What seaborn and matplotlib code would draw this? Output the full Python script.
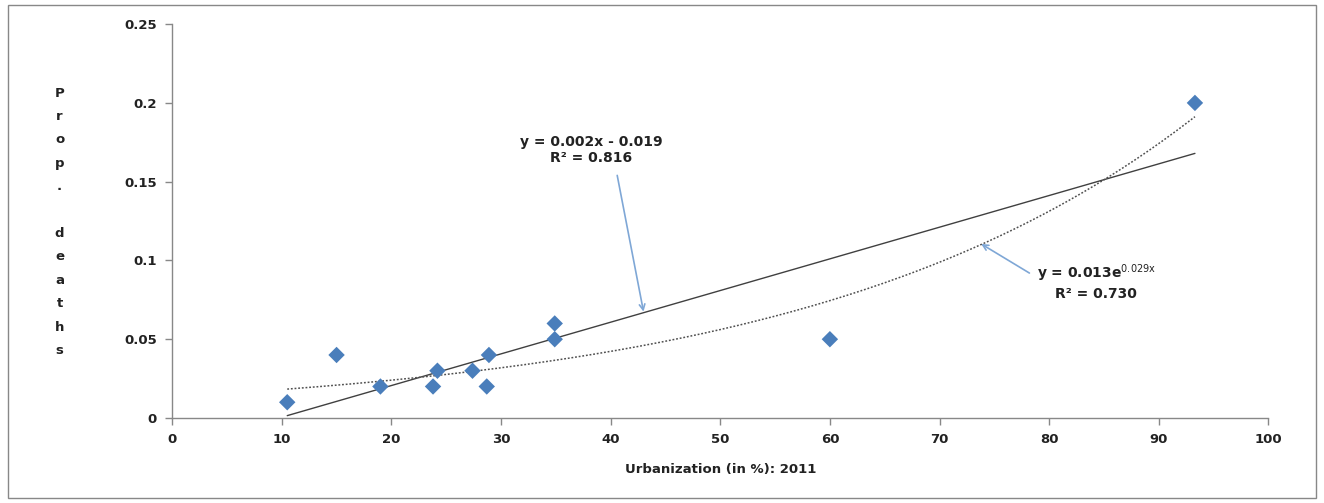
import numpy as np
import pandas as pd
import matplotlib
matplotlib.use('Agg')
import matplotlib.pyplot as plt
import seaborn as sns
from matplotlib.patches import Rectangle

# Datos
urbanization = [10.5, 15.0, 19.0, 23.8, 24.2, 27.4, 28.7, 28.9, 34.9, 34.9, 60.0, 93.3]
prop_deaths = [0.01, 0.04, 0.02, 0.02, 0.03, 0.03, 0.02, 0.04, 0.06, 0.05, 0.05, 0.20]
x_ticks = [0, 10, 20, 30, 40, 50, 60, 70, 80, 90, 100]
y_ticks = [0, 0.05, 0.1, 0.15, 0.2, 0.25]
y_tick_labels = ['0', '0.05', '0.1', '0.15', '0.2', '0.25']

df = pd.DataFrame({'urb': urbanization, 'deaths': prop_deaths})

sns.set_style('white')
plt.rcParams['font.family'] = ['DejaVu Sans']

fig = plt.figure(figsize=(13.24, 5.03), dpi=100)
ax = fig.add_axes([0.130, 0.169, 0.828, 0.783])

# Líneas de tendencia (lineal y exponencial) ajustadas a los datos
xs = np.linspace(df['urb'].min(), df['urb'].max(), 200)
b1, b0 = np.polyfit(df['urb'], df['deaths'], 1)
ax.plot(xs, b1 * xs + b0, color='#404040', lw=1.0, zorder=2)
e1, e0 = np.polyfit(df['urb'], np.log(df['deaths']), 1)
ax.plot(xs, np.exp(e0) * np.exp(e1 * xs), color='#505050', lw=1.1, ls=(0, (1.2, 1.2)), zorder=2)

sns.scatterplot(data=df, x='urb', y='deaths', marker='D', s=70, color='#4A7EBB',
                edgecolor='none', ax=ax, zorder=3)

ax.set_xlim(0, 100)
ax.set_ylim(0, 0.25)
ax.set_xticks(x_ticks)
ax.set_xticklabels([str(t) for t in x_ticks], fontsize=9.5, fontweight='bold', color='#222222')
ax.set_yticks(y_ticks)
ax.set_yticklabels(y_tick_labels, fontsize=9.5, fontweight='bold', color='#222222')
ax.tick_params(axis='both', direction='out', length=5, color='#888888', width=1,
               bottom=True, left=True, pad=6)
for s in ['top', 'right']:
    ax.spines[s].set_visible(False)
for s in ['left', 'bottom']:
    ax.spines[s].set_color('#888888')
    ax.spines[s].set_linewidth(1)

ax.set_xlabel('Urbanization (in %): 2011', fontsize=9.5, fontweight='bold', color='#222222', labelpad=12)
ax.set_ylabel('')
fig.text(0.045, 0.559, '\n'.join('Prop. deaths'), ha='center', va='center', fontsize=9.5,
         fontweight='bold', color='#222222', linespacing=2.04)

# Anotaciones
ax.text(38.2, 0.170, 'y = 0.002x - 0.019\nR² = 0.816', ha='center', va='center',
        fontsize=10, fontweight='bold', color='#222222')
ax.annotate('', xy=(43.0, 0.0675), xytext=(40.6, 0.154),
            arrowprops=dict(arrowstyle='->', color='#7FA7D6', lw=1.2, shrinkA=0, shrinkB=0))
ax.text(84.3, 0.0865, 'y = 0.013e$^{\\mathrm{0.029x}}$\nR² = 0.730', ha='center', va='center',
        fontsize=10, fontweight='bold', color='#222222')
ax.annotate('', xy=(73.8, 0.1105), xytext=(78.2, 0.092),
            arrowprops=dict(arrowstyle='->', color='#7FA7D6', lw=1.2, shrinkA=0, shrinkB=0))

# Marco exterior
fig.patches.append(Rectangle((0.006, 0.01), 0.988, 0.98, transform=fig.transFigure,
                             fill=False, edgecolor='#888888', lw=1))

fig.savefig('out.png', dpi=100)
